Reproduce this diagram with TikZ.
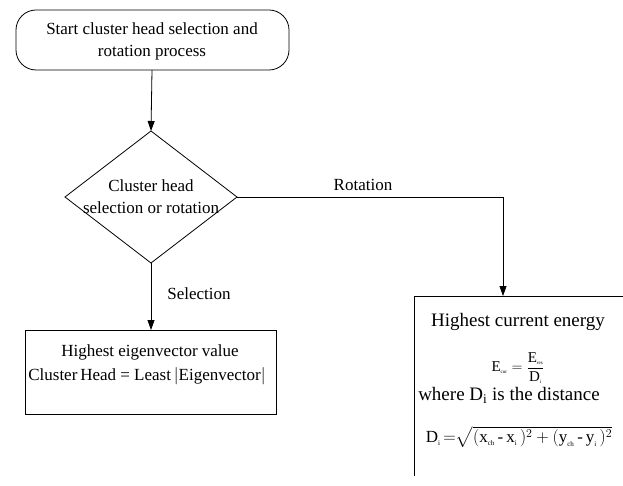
\documentclass[tikz,border=0pt]{standalone}
\usepackage{fontspec}
\usepackage{amsmath}
\setmainfont{Liberation Serif}
\usetikzlibrary{arrows.meta}
\begin{document}
\begin{tikzpicture}[x=1pt,y=-1pt,
  line width=0.8pt,
  conn/.style={draw=black,-{Triangle[length=10pt,width=7pt]}},
  lbl/.style={font=\fontsize{17}{20}\selectfont,inner sep=0pt},
  rlbl/.style={font=\fontsize{19}{22}\selectfont,inner sep=0pt},
  txt/.style={font=\fontsize{17}{22}\selectfont,inner sep=0pt,align=center}]
\useasboundingbox (0,0) rectangle (623,486);
\clip (0,0) rectangle (623,486);
% start box
\draw[rounded corners=20pt] (16,10) rectangle (289,70);
\node[txt] (start) at (152,41) {Start cluster head selection and\\rotation process};
\coordinate (startb) at (152,70);
% diamond
\draw (151,131) -- (237,197) -- (151,263) -- (65,197) -- cycle;
\coordinate (dtop) at (151,131);
\coordinate (dright) at (237,197);
\coordinate (dbot) at (151,263);
\node[txt] (dec) at (151,197) {Cluster head\\selection or rotation};
% left box
\draw (25,330) rectangle (276,414);
\coordinate (ltop) at (151,330);
\node[lbl] (l1) at (150,352) {Highest eigenvector value};
\node[lbl] (l2) at (147,376) {Cluster\,Head = Least$\,|$Eigenvector$|$};
% right box (cut by picture edge)
\draw (640,296) -- (414,296) -- (414,476);
\coordinate (rtop) at (503,296);
\node[rlbl] (r1) at (518,322) {Highest current energy};
\node[inner sep=0pt] (r2) at (518,368) {\fontsize{15}{16}\selectfont$\text{E}_{\text{\tiny cur}} = \dfrac{\text{E}_{\text{\tiny res}}}{\text{D}_{\text{\tiny i}}}$};
\node[rlbl] (r3) at (509,395) {where D\textsubscript{i} is the distance};
\node[inner sep=0pt] (r4) at (519,437) {\fontsize{17}{20}\selectfont$\text{D}_{\text{\scriptsize i}} \,{=}\sqrt{(\text{x}_{\text{\scriptsize ch}}\,\text{-}\,\text{x}_{\text{\scriptsize i}}\,)^2 + (\text{y}_{\text{\scriptsize ch}}\,\text{-}\,\text{y}_{\text{\scriptsize i}}\,)^2}$};
% connectors
\draw[conn] (startb) -- (dtop);
\draw[conn] (dbot) -- (ltop);
\draw[conn] (dright) -| (rtop);
\node[lbl] (rot) at (363,185) {Rotation};
\node[lbl] (sel) at (199,294) {Selection};
\end{tikzpicture}
\end{document}
